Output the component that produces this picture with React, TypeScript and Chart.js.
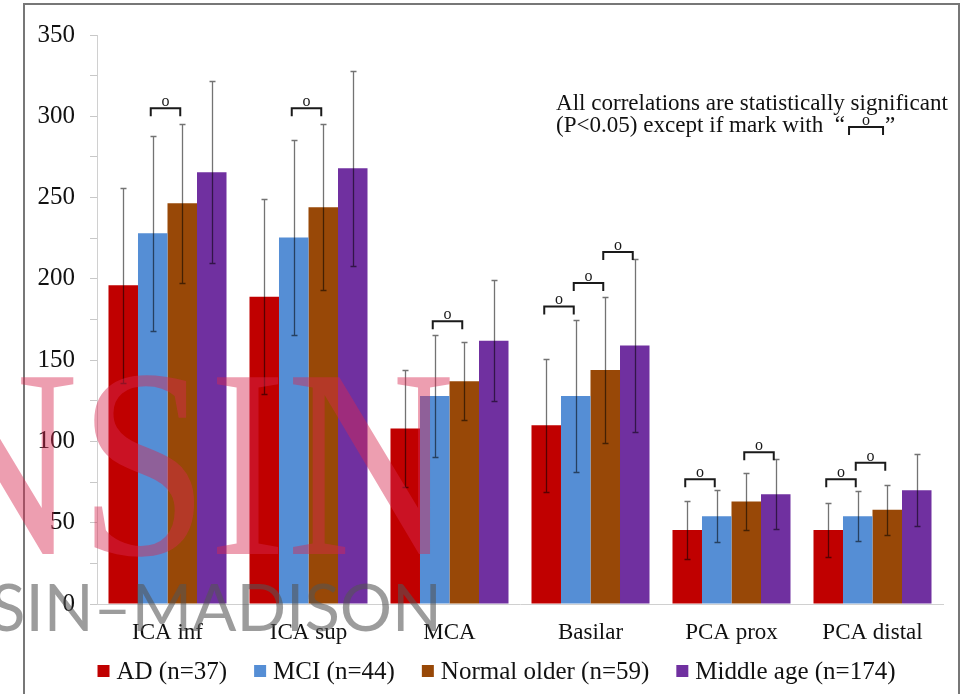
import React, { useEffect, useRef } from 'react';
import { Chart, registerables } from 'chart.js';

Chart.register(...registerables);

// ---------- data ----------
const categories = ['ICA inf', 'ICA sup', 'MCA', 'Basilar', 'PCA prox', 'PCA distal'];
const seriesLabels = ['AD (n=37)', 'MCI (n=44)', 'Normal older (n=59)', 'Middle age (n=174)'];
const seriesColors = ['#C00000', '#558ED5', '#984807', '#7030A0'];

const adValues = [196, 189, 108, 110, 45.5, 45.5];
const adErrors = [60, 60, 36, 41, 18, 16.5];
const mciValues = [228, 225.5, 128, 128, 54, 54];
const mciErrors = [60, 60, 37.5, 47, 16, 15.5];
const normalValues = [246.5, 244, 137, 144, 63, 58];
const normalErrors = [49, 51, 24, 45, 17.5, 15.5];
const middleValues = [265.5, 268, 162, 159, 67.5, 70];
const middleErrors = [56, 60, 37, 53.5, 21.5, 22];

const yMin = 0;
const yMax = 350;
const yStep = 25;
const yLabelStep = 50;

// significance brackets ("o" = not significant): category, first series index (paired with next), level
const sigCategory = [0, 1, 2, 3, 3, 3, 4, 4, 5, 5];
const sigFromSeries = [1, 1, 1, 0, 1, 2, 0, 2, 0, 1];
const sigLevel = [305, 305, 174, 183, 197.5, 216.5, 76.8, 93.3, 76.8, 86.9];

const noteLine1 = 'All correlations are statistically significant';
const noteLine2 = '(P<0.05) except if mark with  \u201C';
const noteClose = '\u201D';

const SERIF = '"Liberation Serif", "Times New Roman", serif';

const seriesValues = [adValues, mciValues, normalValues, middleValues];
const seriesErrors = [adErrors, mciErrors, normalErrors, middleErrors];

function drawBracket(ctx: CanvasRenderingContext2D, x1: number, x2: number, y: number) {
  ctx.save();
  ctx.strokeStyle = '#1a1a1a';
  ctx.lineWidth = 2;
  ctx.lineJoin = 'miter';
  ctx.beginPath();
  ctx.moveTo(x1, y + 8);
  ctx.lineTo(x1, y);
  ctx.lineTo(x2, y);
  ctx.lineTo(x2, y + 8);
  ctx.stroke();
  ctx.fillStyle = '#1a1a1a';
  ctx.font = `16px ${SERIF}`;
  ctx.textAlign = 'center';
  ctx.textBaseline = 'alphabetic';
  ctx.fillText('o', (x1 + x2) / 2, y - 2);
  ctx.restore();
}

const framePlugin = {
  id: 'frame',
  beforeDraw(chart: any) {
    const ctx = chart.ctx;
    ctx.save();
    ctx.fillStyle = '#ffffff';
    ctx.fillRect(0, 0, chart.width, chart.height);
    ctx.strokeStyle = '#777777';
    ctx.lineWidth = 2;
    ctx.beginPath();
    ctx.moveTo(24, chart.height + 2);
    ctx.lineTo(24, 4);
    ctx.lineTo(959, 4);
    ctx.lineTo(959, chart.height + 2);
    ctx.stroke();
    ctx.restore();
  },
};

const errorBarPlugin = {
  id: 'errorBars',
  afterDatasetsDraw(chart: any) {
    const ctx = chart.ctx;
    const yScale = chart.scales.y;
    ctx.save();
    ctx.strokeStyle = 'rgba(0,0,0,0.55)';
    ctx.lineWidth = 1.3;
    chart.data.datasets.forEach((ds: any, i: number) => {
      const meta = chart.getDatasetMeta(i);
      meta.data.forEach((el: any, j: number) => {
        const v = ds.data[j];
        const e = ds.errors[j];
        const yt = Math.round(yScale.getPixelForValue(v + e)) + 0.5;
        const yb = Math.round(yScale.getPixelForValue(v - e)) + 0.5;
        const x = Math.round(el.x) + 0.5;
        ctx.beginPath();
        ctx.moveTo(x, yt);
        ctx.lineTo(x, yb);
        ctx.moveTo(x - 3, yt);
        ctx.lineTo(x + 3, yt);
        ctx.moveTo(x - 3, yb);
        ctx.lineTo(x + 3, yb);
        ctx.stroke();
      });
    });
    ctx.restore();
    // significance brackets
    for (let k = 0; k < sigCategory.length; k++) {
      const c = sigCategory[k];
      const a = sigFromSeries[k];
      const xa = chart.getDatasetMeta(a).data[c].x - 2;
      const xb = chart.getDatasetMeta(a + 1).data[c].x - 2;
      const y = yScale.getPixelForValue(sigLevel[k]);
      drawBracket(ctx, xa, xb, y);
    }
  },
};

const notePlugin = {
  id: 'note',
  afterDraw(chart: any) {
    const ctx = chart.ctx;
    ctx.save();
    ctx.fillStyle = '#111';
    ctx.textAlign = 'left';
    ctx.textBaseline = 'alphabetic';
    ctx.font = `19px ${SERIF}`;
    const w19 = ctx.measureText(noteLine1).width;
    const size = (19 * 392) / w19;
    ctx.font = `${size.toFixed(2)}px ${SERIF}`;
    const x0 = 556;
    ctx.fillText(noteLine1, x0, 110);
    ctx.fillText(noteLine2, x0, 132);
    const w2 = ctx.measureText(noteLine2).width;
    const bx1 = x0 + w2 + 4;
    const bx2 = bx1 + 34;
    drawBracket(ctx, bx1, bx2, 127);
    ctx.fillStyle = '#111';
    ctx.font = `${size.toFixed(2)}px ${SERIF}`;
    ctx.textAlign = 'left';
    ctx.fillText(noteClose, bx2 + 2, 132);
    ctx.restore();
  },
};

const legendPlugin = {
  id: 'customLegend',
  afterDraw(chart: any) {
    const ctx = chart.ctx;
    ctx.save();
    ctx.font = `25px ${SERIF}`;
    ctx.textBaseline = 'middle';
    ctx.textAlign = 'left';
    const box = 12;
    const gapText = 7;
    const gapItem = 27;
    const widths = chart.data.datasets.map((ds: any) => box + gapText + ctx.measureText(ds.label).width);
    const total = widths.reduce((s: number, w: number) => s + w, 0) + gapItem * (widths.length - 1);
    let x = 496.5 - total / 2;
    const yc = 671;
    chart.data.datasets.forEach((ds: any, i: number) => {
      ctx.fillStyle = ds.backgroundColor;
      ctx.fillRect(x, yc - box / 2, box, box);
      ctx.fillStyle = '#111';
      ctx.fillText(ds.label, x + box + gapText, yc + 1);
      x += widths[i] + gapItem;
    });
    ctx.restore();
  },
};

const watermarkPlugin = {
  id: 'watermark',
  afterDraw(chart: any) {
    const ctx = chart.ctx;
    ctx.save();
    // pink serif letters
    ctx.font = `270px ${SERIF}`;
    ctx.textAlign = 'left';
    ctx.textBaseline = 'alphabetic';
    const w1 = ctx.measureText('NSIN').width;
    ctx.translate(-90, 554);
    ctx.scale(545 / w1, 1);
    ctx.fillStyle = 'rgba(215,40,80,0.45)';
    ctx.fillText('NSIN', 0, 0);
    ctx.restore();

    ctx.save();
    ctx.font = `400 66px Lato, "Open Sans", sans-serif`;
    ctx.textAlign = 'left';
    ctx.textBaseline = 'alphabetic';
    const w2 = ctx.measureText('SIN\u2013MADISON').width;
    ctx.translate(-10, 631);
    ctx.scale(452 / w2, 1);
    ctx.fillStyle = 'rgba(85,85,85,0.58)';
    ctx.fillText('SIN\u2013MADISON', 0, 0);
    ctx.restore();
  },
};

export default function App() {
  const canvasRef = useRef<HTMLCanvasElement | null>(null);

  useEffect(() => {
    const canvas = canvasRef.current;
    if (!canvas) return;
    const chart = new Chart(canvas, {
      type: 'bar',
      data: {
        labels: categories,
        datasets: seriesLabels.map((label, i) => ({
          label,
          data: seriesValues[i],
          errors: seriesErrors[i],
          backgroundColor: seriesColors[i],
          borderWidth: 0,
          categoryPercentage: 0.837,
          barPercentage: 1.0,
        })) as any,
      },
      options: {
        responsive: false,
        animation: false,
        devicePixelRatio: 1,
        layout: { padding: { left: 24, right: 29, top: 35, bottom: 48 } },
        plugins: {
          legend: { display: false },
          tooltip: { enabled: false },
          title: { display: false },
        },
        scales: {
          x: {
            grid: { display: false, drawTicks: false },
            border: { display: true, color: '#d0d0d0', width: 1 },
            ticks: {
              color: '#111',
              font: { family: SERIF, size: 23 },
              padding: 15,
              maxRotation: 0,
              autoSkip: false,
            },
            afterFit: (s: any) => {
              s.height = 42;
            },
          },
          y: {
            min: yMin,
            max: yMax,
            grid: { drawOnChartArea: false, drawTicks: true, tickLength: 7, color: '#c8c8c8' },
            border: { display: true, color: '#d0d0d0', width: 1 },
            ticks: {
              stepSize: yStep,
              color: '#111',
              font: { family: SERIF, size: 25 },
              padding: 15,
              callback: (v: any) => (Number(v) % yLabelStep === 0 ? String(v) : ''),
            },
            afterFit: (s: any) => {
              s.width = 73;
            },
          },
        },
      } as any,
      plugins: [framePlugin, errorBarPlugin, notePlugin, legendPlugin, watermarkPlugin],
    });
    return () => chart.destroy();
  }, []);

  return (
    <div style={{ position: 'fixed', left: 0, top: 0, width: 972, height: 694, background: '#fff' }}>
      <canvas ref={canvasRef} width={972} height={694} style={{ display: 'block', width: 972, height: 694 }} />
    </div>
  );
}
